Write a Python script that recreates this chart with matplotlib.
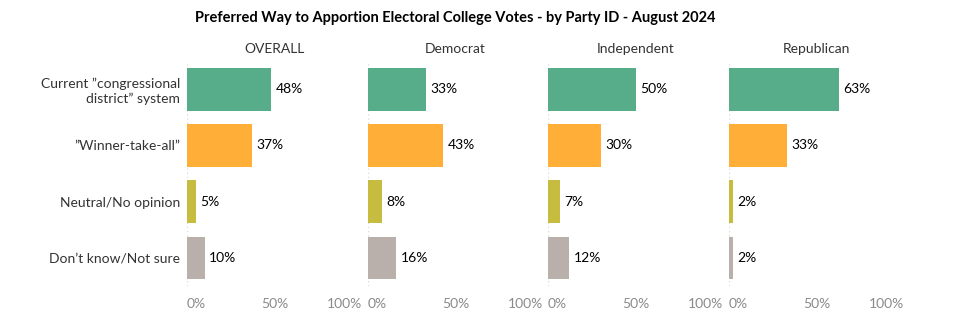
import matplotlib.pyplot as plt

plt.rcParams['font.family'] = ['Lato', 'DejaVu Sans']

categories = ['Current \u201dcongressional\ndistrict\u201d system', '\u201dWinner-take-all\u201d',
              'Neutral/No opinion', 'Don\u2019t know/Not sure']
groups = ['OVERALL', 'Democrat', 'Independent', 'Republican']
values = {
    'OVERALL': [48, 37, 5, 10],
    'Democrat': [33, 43, 8, 16],
    'Independent': [50, 30, 7, 12],
    'Republican': [63, 33, 2, 2],
}
tick_values = [0, 50, 100]
tick_labels = ['0%', '50%', '100%']
colors = ['#57ad8a', '#ffae38', '#c5bc40', '#bab0ab']

W, H = 956, 324
fig = plt.figure(figsize=(W / 100, H / 100), dpi=100)

fig.text(455 / W, 1 - 18 / H, 'Preferred Way to Apportion Electoral College Votes - by Party ID - August 2024',
         ha='center', va='center', fontsize=10.5, fontweight='bold', color='black')

lefts = [187, 368, 548, 729]
pw = 175
top, bottom = 61, 286
for i, g in enumerate(groups):
    ax = fig.add_axes([lefts[i] / W, 1 - bottom / H, pw / W, (bottom - top) / H])
    vals = values[g]
    ys = list(range(len(categories)))
    ax.axvline(0, color='#dddddd', lw=1, ls=(0, (1, 2)), zorder=0)
    ax.barh(ys, vals, height=0.76, color=colors, zorder=2)
    for y, v in zip(ys, vals):
        ax.text(v + 2.5, y, f'{v}%', va='center', ha='left', fontsize=10, color='black')
    ax.set_xlim(0, 100)
    ax.set_ylim(len(categories) - 0.5, -0.5)
    for s in ax.spines.values():
        s.set_visible(False)
    ax.set_xticks(tick_values)
    ax.set_xticklabels(tick_labels, fontsize=10, color='#8a8a8a')
    labs = ax.get_xticklabels()
    labs[0].set_ha('left')
    labs[-1].set_ha('right')
    ax.tick_params(axis='x', length=0, pad=9)
    ax.set_title(g, fontsize=10, color='#333333', pad=6)
    if i == 0:
        ax.set_yticks(ys)
        ax.set_yticklabels(categories, fontsize=10, color='#333333', ha='right',
                           multialignment='right')
        ax.tick_params(axis='y', length=0, pad=5)
    else:
        ax.set_yticks([])

fig.savefig('out.png', dpi=100)
